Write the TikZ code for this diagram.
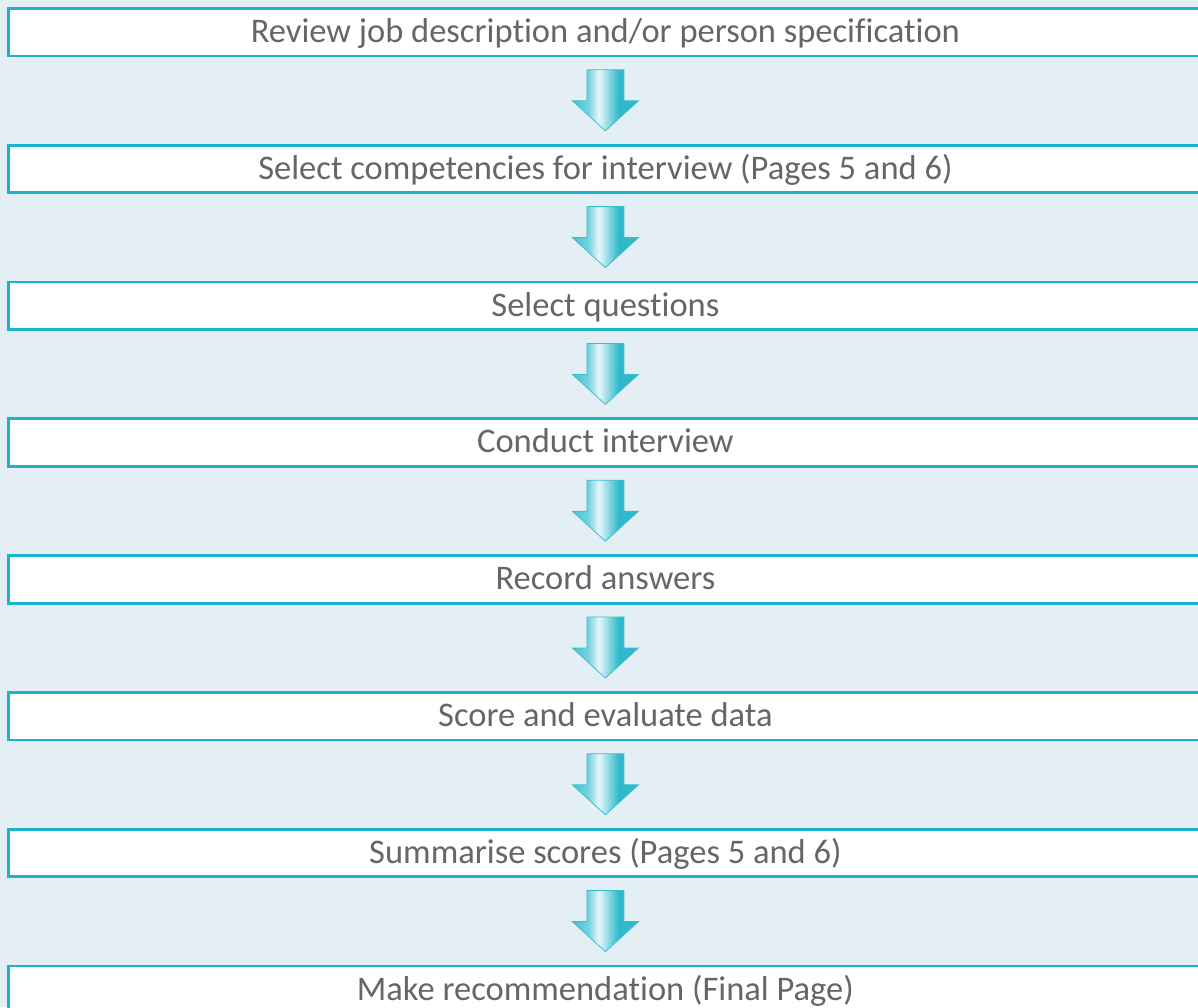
\documentclass[tikz,border=0pt]{standalone}
\usepackage{fontspec}
\setmainfont[Ligatures=NoCommon]{Carlito}
\usetikzlibrary{calc}
\definecolor{bg}{HTML}{E4EFF5}
\definecolor{frame}{HTML}{19B4CB}
\definecolor{txt}{HTML}{666666}
\definecolor{acA}{HTML}{45C2D2}
\definecolor{acB}{HTML}{E6F7FA}
\definecolor{acC}{HTML}{30B9CB}
\definecolor{acE}{HTML}{3DBCCC}
\pgfdeclarehorizontalshading{arrowshade}{100bp}{color(0bp)=(acA); color(25bp)=(acA); color(37bp)=(acA!70!acB); color(45bp)=(acB); color(60bp)=(acC); color(75bp)=(acC); color(100bp)=(acC)}
\begin{document}
\begin{tikzpicture}[x=1pt,y=-1pt,
  stepbox/.style={draw=frame, line width=2.8pt, fill=white, minimum width=1194pt,
    minimum height=47.5pt, inner sep=0pt, text=txt, text height=30pt, text depth=9.5pt,
    font=\fontsize{34.5}{40}\selectfont, anchor=north west},
  flowarrow/.style={shading=arrowshade, draw=acE, line width=0.8pt, line join=miter}]
\fill[bg] (0,0) rectangle (1198,1007);
\useasboundingbox (0,0) rectangle (1198,1007);
\node[stepbox] (s1) at (7,7.0) {Review job description and/or person specification};
\node[stepbox] (s2) at (7,143.8) {Select competencies for interview (Pages 5 and 6)};
\node[stepbox] (s3) at (7,280.6) {Select questions};
\node[stepbox] (s4) at (7,417.4) {Conduct interview};
\node[stepbox] (s5) at (7,554.2) {Record answers};
\node[stepbox] (s6) at (7,691.0) {Score and evaluate data};
\node[stepbox] (s7) at (7,827.8) {Summarise scores (Pages 5 and 6)};
\node[stepbox] (s8) at (7,964.6) {Make recommendation (Final Page)};
\foreach \a/\b in {s1/s2,s2/s3,s3/s4,s4/s5,s5/s6,s6/s7,s7/s8}{
  \draw[flowarrow] ($(\a.south)+(-18.5,12.5)$) -- ($(\a.south)+(18.5,12.5)$)
    -- ($(\a.south)+(18.5,43.5)$) -- ($(\a.south)+(33,43.5)$)
    -- ($(\b.north)+(0,-13)$)
    -- ($(\a.south)+(-33,43.5)$) -- ($(\a.south)+(-18.5,43.5)$) -- cycle;
}
\end{tikzpicture}
\end{document}
